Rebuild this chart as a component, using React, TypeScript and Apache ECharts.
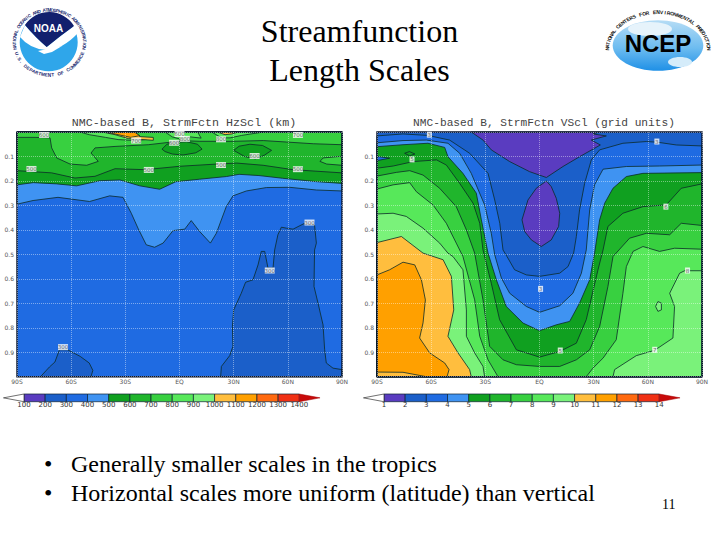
import React, { useEffect, useRef } from "react";
import * as echarts from "echarts";

type Pt = number[];

// ---------- text ----------
const slideTitle = "Streamfunction\nLength Scales";
const bullets = [
  "Generally smaller scales in the tropics",
  "Horizontal scales more uniform (latitude) than vertical",
];
const pageNumber = "11";
const hzTitle = "NMC-based B, StrmFctn HzScl (km)";
const vsTitle = "NMC-based B, StrmFctn VScl (grid units)";

// ---------- axes ----------
const latLabels: Record<string, string> = {
  "-90": "90S", "-60": "60S", "-30": "30S", "0": "EQ", "30": "30N", "60": "60N", "90": "90N",
};
const sigmaTicks = ["0.1", "0.2", "0.3", "0.4", "0.5", "0.6", "0.7", "0.8", "0.9"];
const hzBarEdges = [100, 200, 300, 400, 500, 600, 700, 800, 900, 1000, 1100, 1200, 1300, 1400];
const vsBarEdges = [1, 2, 3, 4, 5, 6, 7, 8, 9, 10, 11, 12, 13, 14];

// ---------- palette ----------
const purple = "#5a3cc0", blue1 = "#1b5fc9", blue2 = "#1f6be2", blue3 = "#3f93f2";
const g1 = "#10a020", g2 = "#20b52c", g3 = "#38d040", g4 = "#57e85a", g5 = "#7af27a";
const o1 = "#ffbe3e", o2 = "#ffa000", o3 = "#ff6a10", o4 = "#f03014";
const barColors = [purple, blue1, blue2, blue3, g1, g2, g3, g4, g5, o1, o2, o3, o4];
const lineColor = "#0b2b28";

// ---------- left panel contours: [latitude, sigma] ----------
const hzBlobSouth: Pt[] = [[-77, 1], [-72, 0.96], [-69, 0.94], [-66.5, 0.89], [-62, 0.89], [-55, 0.917], [-50, 0.944], [-48, 0.974], [-49, 1]];
const hzBlobNorth: Pt[] = [[22.8, 1], [23.2, 0.958], [27.8, 0.914], [29.6, 0.876], [29.3, 0.795], [30, 0.727], [34.2, 0.659], [36.6, 0.614], [40.7, 0.604], [43.5, 0.543], [45.3, 0.488], [47.2, 0.488], [49, 0.556], [51.8, 0.556], [52.7, 0.482], [54.5, 0.42], [56.4, 0.389], [59.2, 0.393], [62.9, 0.397], [69.3, 0.373], [74.8, 0.38], [75.8, 0.454], [74.8, 0.482], [74.5, 0.631], [76.7, 0.699], [79.5, 0.788], [80.4, 0.89], [81.3, 0.944], [85, 0.965], [90, 0.971], [90, 1]];
const hz400: Pt[] = [[-90, 0.295], [-81.1, 0.28], [-67.3, 0.267], [-49.8, 0.284], [-38.7, 0.261], [-31.3, 0.267], [-26.7, 0.332], [-23, 0.393], [-18.4, 0.461], [-13.8, 0.471], [-9.1, 0.454], [-3.6, 0.403], [2.9, 0.397], [6.5, 0.362], [11.2, 0.407], [17.1, 0.454], [20.4, 0.414], [25.9, 0.305], [29.6, 0.261], [37, 0.241], [48.1, 0.227], [61, 0.226], [75.8, 0.237], [90, 0.241]];
const hz500: Pt[] = [[-90, 0.216], [-81, 0.207], [-68, 0.212], [-57, 0.22], [-44, 0.199], [-33, 0.196], [-22, 0.22], [-11, 0.234], [-2, 0.203], [11, 0.193], [26, 0.182], [33, 0.173], [44, 0.178], [57, 0.189], [76, 0.203], [90, 0.21]];
const hz600: Pt[] = [[-90, 0.158], [-70.8, 0.167], [-57.9, 0.188], [-46.8, 0.181], [-35.7, 0.15], [-19.1, 0.154], [0.3, 0.14], [20.6, 0.131], [31.7, 0.127], [46.3, 0.136], [62.9, 0.154], [90, 0.167]];
const hz700: Pt[] = [[-90, 0.022], [-80, 0.022], [-71.7, 0.024], [-70.8, 0.065], [-68, 0.106], [-60.6, 0.131], [-51.4, 0.136], [-45, 0.12], [-49, 0.086], [-46.8, 0.065], [-35.7, 0.059], [-17.3, 0.052], [-4.3, 0.041], [0.3, 0.035], [11.3, 0.038], [29.8, 0.038], [46.4, 0.035], [59.3, 0.041], [74.1, 0.048], [90, 0.052]];
const hz700East: Pt[] = [[90, 0.099], [79.6, 0.106], [77.8, 0.12], [81.5, 0.131], [90, 0.136]];
const hzLowA: Pt[] = [[-9.7, 0.07], [-7, 0.05], [-2, 0.042], [4, 0.04], [10, 0.05], [12.5, 0.07], [9, 0.085], [2, 0.094], [-4, 0.09], [-8, 0.08]];
const hzLowB: Pt[] = [[30, 0.075], [33, 0.058], [39, 0.05], [46, 0.055], [51, 0.075], [47, 0.095], [42, 0.11], [36, 0.1]];
const hz800West: Pt[] = [[-55, 0], [-50, 0.011], [-41, 0.022], [-34, 0.031], [-24, 0.035], [-18, 0.03], [-24, 0.015], [-30, 0]];
const hz800Mid: Pt[] = [[-8, 0], [-4, 0.02], [0, 0.028], [6, 0.02], [12, 0.025], [10, 0]];
const hz800East: Pt[] = [[17.8, 0], [23.3, 0.024], [28, 0.024], [34.4, 0.014], [46.4, 0]];
const hz1000West: Pt[] = [[-42.7, 0], [-35.7, 0.011], [-28.3, 0.027], [-14.5, 0.034], [-14.5, 0.022], [-21.9, 0.019], [-24.6, 0]];
const hz1100West: Pt[] = [[-41, 0], [-34, 0.011], [-27, 0.022], [-22, 0.015], [-25, 0]];
const hz1000East: Pt[] = [[21, 0], [25.2, 0.011], [28.9, 0.008], [32.6, 0]];

// ---------- right panel contours ----------
const vsWedge: Pt[] = [[-37.8, 0], [-31.3, 0.033], [-26.7, 0.073], [-16.5, 0.121], [-5.5, 0.162], [3.8, 0.186], [13, 0.141], [22.2, 0.101], [33.7, 0.053], [28.7, 0.033], [37, 0.016], [29.6, 0.008], [33.3, 0]];
const vsOval: Pt[] = [[3.8, 0.2], [-1.8, 0.23], [-6.4, 0.278], [-9.7, 0.359], [-8.2, 0.407], [-4.5, 0.441], [1, 0.468], [6.5, 0.441], [10.6, 0.386], [11.2, 0.332], [9.3, 0.271], [6.5, 0.223]];
const vs3: Pt[] = [[-90, 0.016], [-75.6, 0.008], [-61.8, 0.014], [-49.8, 0.033], [-38.7, 0.087], [-28.5, 0.169], [-24.8, 0.278], [-22, 0.373], [-20.2, 0.482], [-18, 0.509], [-13.8, 0.563], [-7.3, 0.584], [0, 0.59], [11.2, 0.577], [15.8, 0.55], [18.9, 0.495], [20.4, 0.427], [22.2, 0.318], [25, 0.21], [28.7, 0.114], [33.3, 0.073], [46.2, 0.046], [59.2, 0.039], [65.6, 0.042], [75.8, 0.053], [90, 0.057]];
const vs4: Pt[] = [[-90, 0.044], [-75.6, 0.035], [-62.7, 0.033], [-50.7, 0.046], [-44.2, 0.087], [-37.8, 0.169], [-30.4, 0.298], [-26.7, 0.414], [-24.8, 0.502], [-21.1, 0.597], [-16.5, 0.659], [-7.3, 0.713], [0, 0.737], [11.2, 0.71], [18.5, 0.659], [23.2, 0.577], [25.9, 0.482], [27.8, 0.318], [30.5, 0.216], [35.2, 0.152], [48.1, 0.141], [66.5, 0.139], [90, 0.135]];
const vs5: Pt[] = [[-90, 0.06], [-75.6, 0.052], [-61.8, 0.046], [-52.5, 0.063], [-50.7, 0.101], [-42.4, 0.169], [-35, 0.25], [-32.2, 0.359], [-28.5, 0.495], [-23.9, 0.604], [-18.4, 0.713], [-9.1, 0.781], [0, 0.812], [9.3, 0.788], [16.7, 0.774], [22.2, 0.699], [27.8, 0.604], [30.5, 0.495], [33.3, 0.359], [36.1, 0.291], [40.7, 0.23], [48.1, 0.182], [57.3, 0.169], [90, 0.166]];
const vsPocket: Pt[] = [[-90, 0.1], [-83, 0.107], [-90, 0.117]];
const vsLoopWest: Pt[] = [[-74.7, 0.087], [-72, 0.08], [-69, 0.09], [-72, 0.097]];
const vs6: Pt[] = [[-90, 0.148], [-81, 0.139], [-70, 0.121], [-57, 0.114], [-51.6, 0.135], [-44.2, 0.21], [-36.8, 0.291], [-33.1, 0.373], [-31.3, 0.482], [-26.7, 0.618], [-22.1, 0.767], [-12.8, 0.89], [0, 0.92], [11.2, 0.897], [20.4, 0.863], [25.9, 0.767], [32.4, 0.563], [35.2, 0.482], [37.9, 0.386], [46.2, 0.332], [57.3, 0.305], [70.2, 0.298], [78.5, 0.23], [90, 0.212]];
const vs7: Pt[] = [[-90, 0.18], [-79.3, 0.165], [-71.9, 0.158], [-64.5, 0.176], [-55.3, 0.23], [-46.1, 0.305], [-40.5, 0.4], [-35.9, 0.495], [-31.3, 0.686], [-27.6, 0.876], [-20.2, 0.931], [-12.8, 0.951], [0, 0.958], [11.2, 0.958], [20.4, 0.931], [27.8, 0.89], [33.3, 0.795], [37.9, 0.631], [40.7, 0.509], [49.9, 0.434], [59.2, 0.414], [72.1, 0.42], [78.5, 0.373], [90, 0.382]];
const vs8West: Pt[] = [[-90, 0.233], [-81.1, 0.216], [-71.9, 0.207], [-68.2, 0.244], [-59, 0.298], [-51.6, 0.373], [-46.1, 0.454], [-42.4, 0.509], [-35.9, 0.686], [-33.1, 0.835], [-28.5, 0.931], [-23, 1], [-90, 1]];
const vs8East: Pt[] = [[25.9, 1], [29.6, 0.965], [35.2, 0.924], [42.5, 0.849], [46.2, 0.659], [48.1, 0.55], [51.8, 0.488], [57.3, 0.468], [66.5, 0.488], [74.8, 0.475], [90, 0.479], [90, 1]];
const vs9West: Pt[] = [[-90, 0.335], [-81.1, 0.332], [-73.8, 0.345], [-64.5, 0.393], [-55.3, 0.454], [-50.7, 0.495], [-47.9, 0.509], [-42.4, 0.563], [-40.5, 0.727], [-40.5, 0.835], [-35.9, 0.903], [-31.3, 0.958], [-30.4, 1], [-90, 1]];
const vs9East: Pt[] = [[40.7, 1], [41.6, 0.971], [53.6, 0.914], [63.8, 0.892], [73.9, 0.842], [74.8, 0.713], [72.1, 0.659], [77.6, 0.577], [80.4, 0.567], [90, 0.567], [90, 1]];
const vsLoopEast: Pt[] = [[64.3, 0.713], [65.6, 0.693], [67.5, 0.699], [67.5, 0.727], [65.6, 0.733]];
const vs10: Pt[] = [[-90, 0.452], [-76.5, 0.427], [-64.5, 0.495], [-53.4, 0.522], [-48.8, 0.59], [-47.5, 0.727], [-50.7, 0.835], [-45.1, 0.903], [-38.7, 0.971], [-37.8, 1], [-90, 1]];
const vs11: Pt[] = [[-90, 0.584], [-83, 0.563], [-75.6, 0.532], [-69.1, 0.543], [-65.4, 0.604], [-63.2, 0.686], [-64.5, 0.78], [-66.4, 0.842], [-60.8, 0.903], [-52.5, 0.944], [-50.1, 0.971], [-51.2, 1], [-62.7, 1], [-75.6, 0.982], [-90, 0.981]];

// ---------- contour labels: [latitude, sigma, text] ----------
const hzLabels: [number, number, string][] = [
  [-82, 0.151, "500"], [-17, 0.155, "500"], [23, 0.135, "500"], [65.6, 0.152, "500"], [41.6, 0.098, "600"],
  [-24, 0.035, "700"], [-3, 0.044, "600"], [3, 0.028, "800"], [23, 0.03, "800"],
  [-75, 0.012, "600"], [0, 0.008, "600"], [65.6, 0.012, "700"],
  [72, 0.37, "300"], [50, 0.566, "300"], [-64.5, 0.879, "300"],
];
const vsLabels: [number, number, string][] = [
  [-61, 0.011, "3"], [65, 0.039, "3"], [-70.6, 0.112, "5"], [70, 0.305, "6"],
  [0.6, 0.641, "3"], [11.5, 0.893, "5"], [63.8, 0.89, "7"], [82, 0.566, "8"],
];

const plotBox: Pt[] = [[-90, 0], [90, 0], [90, 1], [-90, 1]];
const above = (c: Pt[]): Pt[] => [[-90, 0], ...c, [90, 0]];
const below = (c: Pt[]): Pt[] => [...c, [90, 1], [-90, 1]];

type Layer = { pts: Pt[]; fill: string; noStroke?: boolean };
const hzLayers: Layer[] = [
  { pts: plotBox, fill: blue2, noStroke: true },
  { pts: hzBlobSouth, fill: blue1 },
  { pts: hzBlobNorth, fill: blue1 },
  { pts: above(hz400), fill: blue3 },
  { pts: above(hz500), fill: g1 },
  { pts: above(hz600), fill: g2 },
  { pts: above(hz700), fill: g3 },
  { pts: hz700East, fill: g3 },
  { pts: hzLowA, fill: g1 },
  { pts: hzLowB, fill: g1 },
  { pts: hz800West, fill: g4 },
  { pts: hz800Mid, fill: g4 },
  { pts: hz800East, fill: g4 },
  { pts: hz1000West, fill: o1 },
  { pts: hz1100West, fill: o2 },
  { pts: hz1000East, fill: o1 },
];
const vsLayers: Layer[] = [
  { pts: plotBox, fill: blue1, noStroke: true },
  { pts: vsWedge, fill: purple },
  { pts: vsOval, fill: purple },
  { pts: below(vs3), fill: blue2 },
  { pts: below(vs4), fill: blue3 },
  { pts: below(vs5), fill: g1 },
  { pts: vsPocket, fill: blue2 },
  { pts: vsLoopWest, fill: g1 },
  { pts: below(vs6), fill: g2 },
  { pts: below(vs7), fill: g3 },
  { pts: vs8West, fill: g4 },
  { pts: vs8East, fill: g4 },
  { pts: vs9West, fill: g5 },
  { pts: vs9East, fill: g5 },
  { pts: vsLoopEast, fill: g5 },
  { pts: vs10, fill: o1 },
  { pts: vs11, fill: o2 },
];

function contourSeries(layers: Layer[], idx: number) {
  return {
    type: "custom",
    coordinateSystem: "cartesian2d",
    xAxisIndex: idx,
    yAxisIndex: idx,
    silent: true,
    z: 2,
    data: [...layers.map((l) => l.pts[0]), plotBox[0]],
    renderItem: (params: any, api: any) => {
      const i = params.dataIndex;
      if (i === layers.length) {
        return {
          type: "polygon",
          shape: { points: plotBox.map((p) => api.coord(p)) },
          style: { fill: "none", stroke: "#06122a", lineWidth: 1.4 },
        };
      }
      const l = layers[i];
      return {
        type: "polygon",
        shape: { points: l.pts.map((p) => api.coord(p)) },
        style: { fill: l.fill, stroke: l.noStroke ? "none" : lineColor, lineWidth: 0.8 },
      };
    },
  };
}

function labelSeries(labels: [number, number, string][], idx: number, size: number[]) {
  return {
    type: "scatter",
    xAxisIndex: idx,
    yAxisIndex: idx,
    silent: true,
    z: 15,
    symbol: "rect",
    symbolSize: size,
    itemStyle: { color: "#ffffff" },
    label: { show: true, position: "inside", formatter: "{b}", fontSize: 5.5, color: "#444", fontFamily: "DejaVu Sans" },
    data: labels.map((l) => ({ value: [l[0], l[1]], name: l[2] })),
  };
}

function barSeries(edges: number[], idx: number, lowTip: number, highTip: number) {
  const n = edges.length - 1;
  return {
    type: "custom",
    coordinateSystem: "cartesian2d",
    xAxisIndex: idx,
    yAxisIndex: idx,
    silent: true,
    z: 2,
    data: [...edges.slice(0, n).map((e) => [e, 0.5]), [lowTip, 0.5], [highTip, 0.5]],
    renderItem: (params: any, api: any) => {
      const i = params.dataIndex;
      if (i < n) {
        const pts = [[edges[i], 1], [edges[i + 1], 1], [edges[i + 1], 0], [edges[i], 0]];
        return {
          type: "polygon",
          shape: { points: pts.map((p) => api.coord(p)) },
          style: { fill: barColors[i], stroke: "#0b2030", lineWidth: 0.7 },
        };
      }
      const isLow = i === n;
      const base = isLow ? edges[0] : edges[n];
      const tip = isLow ? lowTip : highTip;
      const pts = [[base, 1], [tip, 0.5], [base, 0]];
      return {
        type: "polygon",
        shape: { points: pts.map((p) => api.coord(p)) },
        style: isLow
          ? { fill: "#ffffff", stroke: "#333", lineWidth: 0.7 }
          : { fill: "#c80a0a", stroke: "#a00000", lineWidth: 0.5 },
      };
    },
  };
}

function ringText(text: string, cx: number, cy: number, rx: number, ry: number, from: number, to: number, font: string, fill: string, flip = false) {
  const chars = text.split("");
  return chars.map((ch, i) => {
    const deg = from + ((to - from) * i) / (chars.length - 1);
    const a = (deg * Math.PI) / 180;
    return {
      type: "text",
      x: cx + rx * Math.sin(a),
      y: cy - ry * Math.cos(a),
      rotation: flip ? Math.PI - a : -a,
      style: { text: ch, font, fill, align: "center", verticalAlign: "middle" },
      silent: true,
    };
  });
}

const serif = "Liberation Serif";

export default function App() {
  const ref = useRef<HTMLDivElement>(null);
  useEffect(() => {
    echarts.graphic.registerShape("noaaNavy", echarts.graphic.extendPath("M25,25 A29,29 0 0 1 74,26 Q60,36 46.7,47 Q36,38 25,25 Z", {}));
    echarts.graphic.registerShape("noaaWhite", echarts.graphic.extendPath("M20,37 L25,25 Q36,38 46.7,47 Q60,36 74,26 L78,33 Q62,50 46,50 Q30,49 20,37 Z", {}));
    const chart = echarts.init(ref.current!, undefined, { renderer: "svg" });

    const panelGrid = (left: number) => ({ left, top: 132, width: 325, height: 244.7 });
    const barGrid = (left: number) => ({ left, top: 394, width: 275.3, height: 7.7 });
    const dotted = { show: true, lineStyle: { color: "#ffffff", opacity: 0.42, type: "dotted", width: 1 } };
    const latAxis = (gridIndex: number) => ({
      type: "value", gridIndex, min: -90, max: 90, interval: 30, z: 10,
      axisLine: { show: false },
      axisTick: { show: false },
      splitLine: dotted,
      axisLabel: {
        fontSize: 6, color: "#555", margin: 2, fontFamily: "DejaVu Sans",
        formatter: (v: number) => latLabels[String(v)] ?? "",
      },
    });
    const sigmaAxis = (gridIndex: number) => ({
      type: "value", gridIndex, min: 0, max: 1, interval: 0.1, inverse: true, z: 10,
      axisLine: { show: false },
      axisTick: { show: false },
      splitLine: dotted,
      axisLabel: {
        fontSize: 6, color: "#555", margin: 3, fontFamily: "DejaVu Sans",
        formatter: (v: number) => {
          const s = v.toFixed(1);
          return sigmaTicks.includes(s) ? s : "";
        },
      },
    });
    const barAxis = (gridIndex: number, edges: number[]) => ({
      type: "value", gridIndex, min: edges[0], max: edges[edges.length - 1], interval: edges[1] - edges[0],
      axisLine: { show: false }, axisTick: { show: false }, splitLine: { show: false },
      axisLabel: { fontSize: 7, color: "#333", margin: 0, fontFamily: "DejaVu Sans", formatter: (v: number) => String(v), hideOverlap: false },
    });
    const barY = (gridIndex: number) => ({ type: "value", gridIndex, min: 0, max: 1, show: false, splitLine: { show: false } });

    chart.setOption({
      animation: false,
      backgroundColor: "#ffffff",
      title: [
        {
          text: slideTitle, left: 354.5, top: 6, textAlign: "center",
          textStyle: { fontFamily: serif, fontSize: 32, fontWeight: "normal", color: "#000", lineHeight: 39 },
        },
        {
          text: hzTitle, left: 179, top: 112, textAlign: "center",
          textStyle: { fontFamily: "Liberation Mono", fontSize: 11.7, fontWeight: "normal", color: "#444" },
        },
        {
          text: vsTitle, left: 539, top: 112, textAlign: "center",
          textStyle: { fontFamily: "Liberation Mono", fontSize: 11.2, fontWeight: "normal", color: "#444" },
        },
      ],
      grid: [panelGrid(17), panelGrid(377), barGrid(24), barGrid(384)],
      xAxis: [latAxis(0), latAxis(1), barAxis(2, hzBarEdges), barAxis(3, vsBarEdges)],
      yAxis: [sigmaAxis(0), sigmaAxis(1), barY(2), barY(3)],
      series: [
        contourSeries(hzLayers, 0),
        contourSeries(vsLayers, 1),
        labelSeries(hzLabels, 0, [10, 6]),
        labelSeries(vsLabels, 1, [5, 6]),
        barSeries(hzBarEdges, 2, 3, 1498),
        barSeries(vsBarEdges, 3, 0.03, 14.98),
      ],
      graphic: [
        // NOAA logo
        { type: "circle", shape: { cx: 48.7, cy: 42.3, r: 29 }, style: { fill: "#2fa6ea" }, silent: true },
        { type: "noaaWhite", x: 0, y: 0, style: { fill: "#ffffff" }, silent: true },
        { type: "noaaNavy", x: 0, y: 0, style: { fill: "#12206e" }, silent: true },
        { type: "polygon", shape: { points: [[38, 51], [62, 46], [52, 52], [44, 54]] }, style: { fill: "#ffffff" }, silent: true },
        { type: "text", x: 48.5, y: 28, style: { text: "NOAA", font: "bold 10px Liberation Sans", fill: "#ffffff", align: "center", verticalAlign: "middle" }, silent: true },
        ...ringText("NATIONAL OCEANIC AND ATMOSPHERIC ADMINISTRATION", 49.5, 42.5, 35, 32.5, -100, 100, "bold 4.6px Liberation Sans", "#1a2a70"),
        ...ringText("U.S. DEPARTMENT OF COMMERCE", 49.5, 42.5, 35, 32.5, 250, 110, "bold 4.6px Liberation Sans", "#1a2a70", true),
        // NCEP logo
        {
          type: "ellipse", shape: { cx: 658, cy: 45.5, rx: 45.3, ry: 25.3 },
          style: {
            fill: new echarts.graphic.LinearGradient(0, 0, 0, 1, [
              { offset: 0, color: "#b5dcf5" }, { offset: 0.55, color: "#6dbcf0" }, { offset: 1, color: "#1f90e6" },
            ]),
          },
          silent: true,
        },
        { type: "ellipse", shape: { cx: 650, cy: 29, rx: 22, ry: 7 }, style: { fill: "#e6f3fb" }, silent: true },
        { type: "ellipse", shape: { cx: 680, cy: 62, rx: 12, ry: 5 }, style: { fill: "#d5ecfa" }, silent: true },
        { type: "text", x: 658, y: 43, style: { text: "NCEP", font: "bold 24px Liberation Sans", fill: "#000000", align: "center", verticalAlign: "middle" }, silent: true },
        ...ringText("NATIONAL CENTERS FOR ENVIRONMENTAL PREDICTION", 658, 50, 51, 38, -88, 88, "bold 5px Liberation Sans", "#111111"),
        // bullets and page number
        { type: "text", x: 44, y: 464, style: { text: "•", font: `24px ${serif}`, fill: "#000", verticalAlign: "middle" }, silent: true },
        { type: "text", x: 71, y: 464, style: { text: bullets[0], font: `24px ${serif}`, fill: "#000", verticalAlign: "middle" }, silent: true },
        { type: "text", x: 44, y: 493, style: { text: "•", font: `24px ${serif}`, fill: "#000", verticalAlign: "middle" }, silent: true },
        { type: "text", x: 71, y: 493, style: { text: bullets[1], font: `24px ${serif}`, fill: "#000", verticalAlign: "middle" }, silent: true },
        { type: "text", x: 662, y: 504, style: { text: pageNumber, font: `14px ${serif}`, fill: "#000", verticalAlign: "middle" }, silent: true },
      ],
    });
    return () => chart.dispose();
  }, []);
  return <div ref={ref} style={{ position: "absolute", left: 0, top: 0, width: 720, height: 540 }} />;
}
